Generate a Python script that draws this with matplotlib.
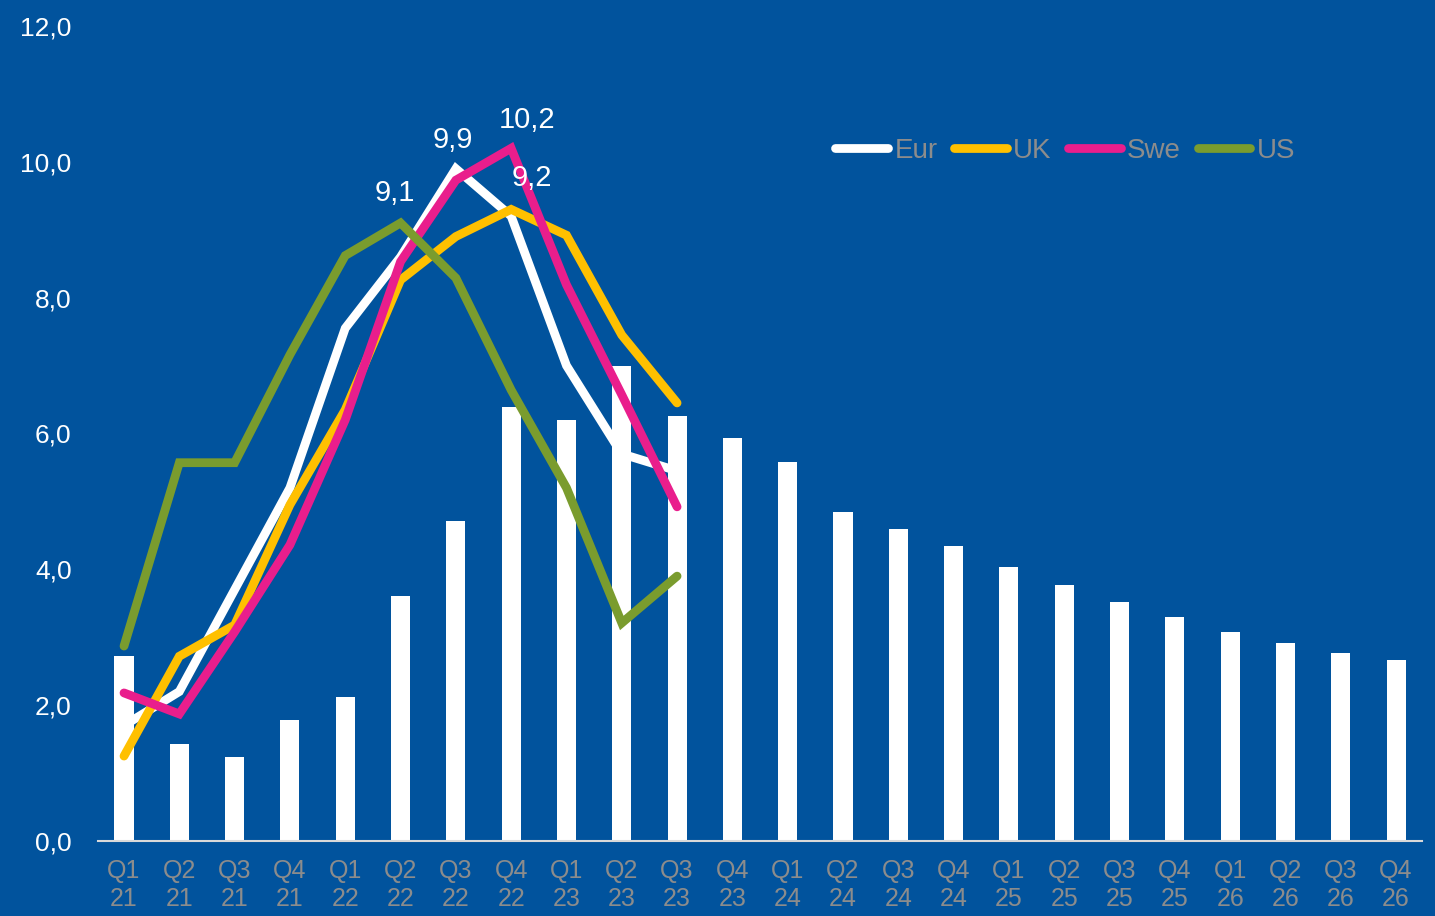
import numpy as np
from matplotlib import pyplot as plt

#======================================================================================================
# Data
quarters = ["Q1\n21", "Q2\n21", "Q3\n21", "Q4\n21",
            "Q1\n22", "Q2\n22", "Q3\n22", "Q4\n22",
            "Q1\n23", "Q2\n23", "Q3\n23", "Q4\n23",
            "Q1\n24", "Q2\n24", "Q3\n24", "Q4\n24",
            "Q1\n25", "Q2\n25", "Q3\n25", "Q4\n25",
            "Q1\n26", "Q2\n26", "Q3\n26", "Q4\n26"]

bars = [2.72, 1.43, 1.24, 1.78, 2.12, 3.61, 4.71, 6.39, 6.20, 7.00, 6.26, 5.94,
        5.58, 4.85, 4.59, 4.34, 4.04, 3.77, 3.52, 3.30, 3.08, 2.92, 2.77, 2.67]

eur = [1.70, 2.20, 3.70, 5.20, 7.55, 8.60, 9.90, 9.20, 7.00, 5.70, 5.45]
uk  = [1.25, 2.72, 3.18, 4.95, 6.35, 8.26, 8.90, 9.30, 8.92, 7.45, 6.45]
swe = [2.18, 1.87, 3.08, 4.36, 6.20, 8.53, 9.73, 10.20, 8.19, 6.57, 4.92]
us  = [2.87, 5.57, 5.57, 7.16, 8.62, 9.10, 8.29, 6.64, 5.20, 3.21, 3.90]

series_names  = ["Eur", "UK", "Swe", "US"]
series_values = [eur, uk, swe, us]
series_colors = ["#ffffff", "#ffc000", "#e91e8c", "#7a9c2e"]

y_ticks = [0, 2, 4, 6, 8, 10, 12]

# peak labels: (series index, quarter index, x offset, y offset)
peak_labels = [(0, 6, -0.05, 0.42), (2, 7, 0.28, 0.42), (0, 7, 0.38, 0.56), (3, 5, -0.1, 0.44)]

BG = "#01539d"
#======================================================================================================


def fmt(v):
    return ("%.1f" % v).replace(".", ",")


def main():
    plt.rcParams['font.family'] = ['Liberation Sans', 'DejaVu Sans']
    fig = plt.figure(figsize=[14.35, 9.16], dpi=100, facecolor=BG)
    ax = fig.add_axes([0.0683, 0.0819, 0.9227, 0.8897])
    ax.set_facecolor(BG)

    x = np.arange(len(quarters))
    ax.bar(x, bars, width=0.345, color="white", zorder=1)

    for name, vals, col in zip(series_names, series_values, series_colors):
        ax.plot(x[:len(vals)], vals, color=col, lw=6.3, label=name,
                solid_capstyle='round', solid_joinstyle='miter', zorder=2)

    for si, qi, dx, dy in peak_labels:
        v = series_values[si][qi]
        ax.text(qi + dx, v + dy, fmt(v), color="white", fontsize=21,
                ha="center", va="center", zorder=3)

    ax.set_xlim(-0.47, 23.47)
    ax.set_ylim(0, 12)
    ax.set_yticks(y_ticks)
    ax.set_yticklabels([fmt(t) for t in y_ticks], color="white", fontsize=19)
    ax.set_xticks(x)
    ax.set_xticklabels(quarters, color="#8c8c8c", fontsize=18, linespacing=1.2)
    ax.tick_params(axis="both", length=0)
    ax.tick_params(axis="y", pad=19)
    ax.tick_params(axis="x", pad=13)

    for s in ["top", "right", "left"]:
        ax.spines[s].set_visible(False)
    ax.spines["bottom"].set_color("#d9d9d9")
    ax.spines["bottom"].set_linewidth(1.5)

    leg = ax.legend(loc="center left", bbox_to_anchor=(0.5485, 0.847), ncol=4,
                    frameon=False, fontsize=20, handlelength=1.9, handletextpad=0.22,
                    columnspacing=0.6, borderaxespad=0)
    for t in leg.get_texts():
        t.set_color("#8c8c8c")

    plt.savefig("out.png", dpi=100, facecolor=BG)
    return


if __name__ == "__main__":
    main()
